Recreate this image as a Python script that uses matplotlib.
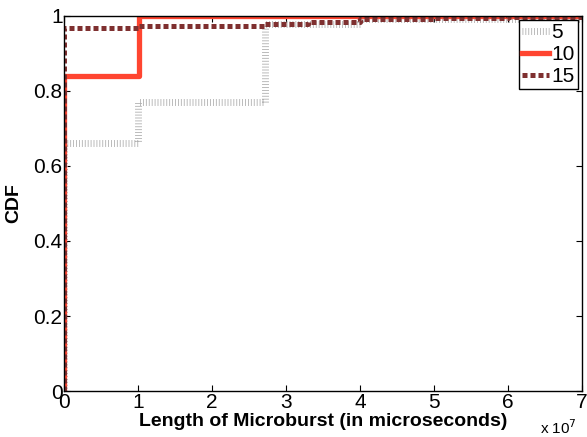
import numpy as np
import matplotlib
matplotlib.use("Agg")
import matplotlib.pyplot as plt
from matplotlib.ticker import FuncFormatter

plt.rcParams['font.family'] = ['Liberation Sans', 'DejaVu Sans']

# CDF steps (x in microseconds)
x5 = [0, 0, 1.0e7, 2.72e7, 4.0e7, 7.0e7]
y5 = [0, 0.66, 0.77, 0.978, 0.99, 1.0]

x10 = [0, 0, 1.02e7, 7.0e7]
y10 = [0, 0.84, 1.0, 1.0]

x15 = [0, 0, 1.0e7, 2.7e7, 3.3e7, 4.0e7, 5.0e7, 6.0e7, 7.0e7]
y15 = [0, 0.966, 0.972, 0.978, 0.984, 0.99, 0.994, 0.997, 1.0]

labels = ["5", "10", "15"]

fig = plt.figure(figsize=(5.87, 4.37), dpi=100)
ax = fig.add_axes([0.109, 0.105, 0.882, 0.859])

ax.plot(x5, y5, drawstyle='steps-post', color='#b0b0b0', lw=5,
        dashes=(0.12, 0.3), label=labels[0])
ax.plot(x10, y10, drawstyle='steps-post', color='#ff4530', lw=3.8,
        label=labels[1])
ax.plot(x15, y15, drawstyle='steps-post', color='#7f3030', lw=3.6,
        dashes=(1.0, 0.6), label=labels[2])

ax.set_xlim(0, 7e7)
ax.set_ylim(0, 1)
ax.set_xticks(np.arange(0, 8) * 1e7)
ax.xaxis.set_major_formatter(FuncFormatter(lambda v, p: "%g" % (v / 1e7)))
ax.set_yticks([0, 0.2, 0.4, 0.6, 0.8, 1])
ax.yaxis.set_major_formatter(FuncFormatter(lambda v, p: "%g" % v))
ax.tick_params(direction='in', top=True, right=True, labelsize=15, length=4,
               pad=1)
for s in ax.spines.values():
    s.set_linewidth(1)

ax.set_xlabel("Length of Microburst (in microseconds)", fontsize=14,
              fontweight='bold', labelpad=1)
ax.set_ylabel("CDF", fontsize=14, fontweight='bold', labelpad=8)
ax.text(0.92, -0.072, r"x 10$^7$", transform=ax.transAxes, fontsize=11,
        ha='left', va='top')

leg = ax.legend(loc='upper right', fontsize=15, handlelength=1.3,
                handletextpad=0.1, borderpad=0.15, labelspacing=0.15,
                borderaxespad=0.2, fancybox=False, framealpha=1)
leg.get_frame().set_edgecolor('black')
leg.get_frame().set_linewidth(1)

plt.savefig("out.png", dpi=100)
plt.close()
